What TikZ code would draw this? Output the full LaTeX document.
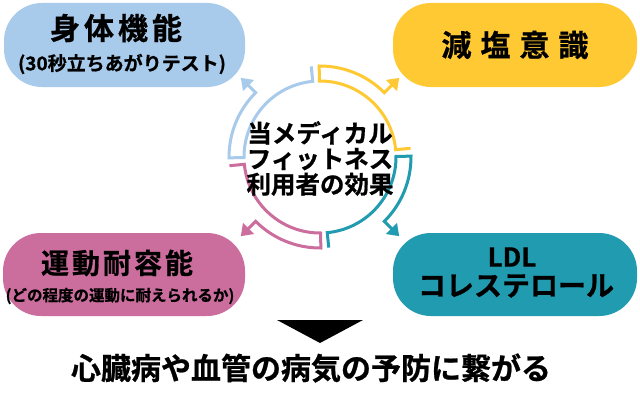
\documentclass[tikz,border=0pt]{standalone}
\usepackage{fontspec}
\setmainfont{Noto Sans CJK JP}[BoldFont={Noto Sans CJK JP Bold},BoldFeatures={FakeBold=0.8}]
\usetikzlibrary{arrows.meta,calc}
\definecolor{cblue}{HTML}{A9CBEB}
\definecolor{cyellow}{HTML}{FFC933}
\definecolor{cpink}{HTML}{CB6D9D}
\definecolor{cteal}{HTML}{219BB0}
\begin{document}
\begin{tikzpicture}[x=1pt,y=1pt,
  pill/.style={fill=#1, draw=none, rounded corners=38pt, inner sep=0pt},
  jp/.style={font=\bfseries\fontsize{#1}{#1}\selectfont, inner sep=0pt, text=black},
  ring/.style={draw=#1, line width=3pt, line join=miter},
  ringhead/.style={draw=#1, fill=#1, line width=3pt, -{Triangle[length=11pt,width=15pt]}}]
\useasboundingbox (0,0) rectangle (640,400);
\fill[white] (0,0) rectangle (640,400);

% boxes
\node[pill=cblue, minimum width=241pt, minimum height=84pt] (bodybox) at (124.5,355) {};
\node[pill=cyellow, minimum width=244pt, minimum height=84pt] (saltbox) at (515,355) {};
\node[pill=cpink, minimum width=242pt, minimum height=83pt] (exbox) at (124,125.5) {};
\node[pill=cteal, minimum width=244pt, minimum height=83pt] (ldlbox) at (515,125.5) {};

% box texts
\node[jp=30] (bodyt) at (116,372) {身\kern4pt 体\kern4pt 機\kern4pt 能};
\node[jp=19] (bodys) at (122,336) {(30秒立ちあがりテスト)};
\node[jp=30] (saltt) at (515,355) {減\kern9pt 塩\kern9pt 意\kern9pt 識};
\node[jp=28] (ext) at (117,137) {運\kern3pt 動\kern3pt 耐\kern3pt 容\kern3pt 能};
\node[jp=15.5] (exs) at (120,104) {(どの程度の運動に耐えられるか)};
\node[jp=26] (ldlt) at (512,143) {LDL};
\node[jp=28] (cholt) at (516,114) {コレステロール};

% central ring
\coordinate (C) at (320,243);
\foreach \s/\c in {90.5/cyellow, 0.5/cteal, -89.5/cpink, 180.5/cblue} {
  \pgfmathsetmacro\e{\s-85}
  \pgfmathsetmacro\h{\s-45.5}
  \draw[ring=\c] ($(C)+(\h:91)$) arc[start angle=\h, end angle=\s, radius=91pt]
     -- ($(C)+(\s:76)$) arc[start angle=\s, end angle=\e, radius=76pt]
     -- ($(C)+(\e:91)$);
  \draw[ringhead=\c] ($(C)+(\h:89.5)$) -- ($(C)+(\h:112)$);
}
\node[jp=24.5, font=\bfseries\fontsize{24.5}{25.5}\selectfont, align=center] (center) at (320,241.5)
  {当メディカル\\フィットネス\\利用者の効果};

% down triangle and conclusion
\fill[black] (277,80) -- (363,80) -- (320,57) -- cycle;
\node[jp=30] (goal) at (311,32) {心臓病や血管の病気の予防に繋がる};
\end{tikzpicture}
\end{document}
